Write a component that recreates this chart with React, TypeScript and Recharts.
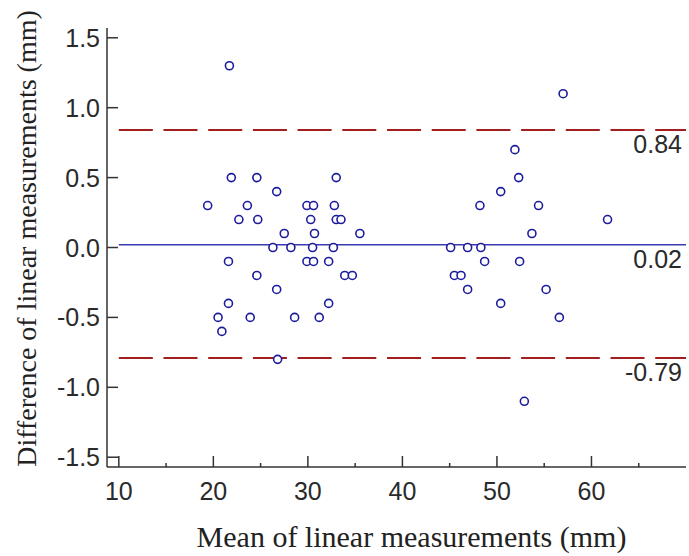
import React from 'react';
import {
  ScatterChart,
  Scatter,
  XAxis,
  YAxis,
  ReferenceLine,
} from 'recharts';

// mean of the two measurements (mm) and their difference (mm)
const meanMm = [
  21.7, 19.4, 21.9, 24.6, 26.7, 33.0, 23.6, 29.9, 30.6, 32.8,
  22.7, 24.7, 30.3, 33.0, 33.5, 27.5, 30.7, 35.5, 26.3, 28.2,
  30.5, 32.7, 21.6, 29.9, 30.6, 32.2, 24.6, 33.9, 34.7, 26.7,
  21.6, 32.2, 20.5, 23.9, 28.6, 31.2, 20.9, 26.8,
  57.0, 51.9, 52.3, 50.4, 48.2, 54.4, 61.7, 53.7, 45.1, 46.9,
  48.3, 48.7, 52.4, 45.5, 46.2, 46.9, 55.2, 50.4, 56.6, 52.9,
];
const diffMm = [
  1.3, 0.3, 0.5, 0.5, 0.4, 0.5, 0.3, 0.3, 0.3, 0.3,
  0.2, 0.2, 0.2, 0.2, 0.2, 0.1, 0.1, 0.1, 0.0, 0.0,
  0.0, 0.0, -0.1, -0.1, -0.1, -0.1, -0.2, -0.2, -0.2, -0.3,
  -0.4, -0.4, -0.5, -0.5, -0.5, -0.5, -0.6, -0.8,
  1.1, 0.7, 0.5, 0.4, 0.3, 0.3, 0.2, 0.1, 0.0, 0.0,
  0.0, -0.1, -0.1, -0.2, -0.2, -0.3, -0.3, -0.4, -0.5, -1.1,
];

// upper limit, mean difference, lower limit
const limitValues = [0.84, 0.02, -0.79];
const limitLabels = ['0.84', '0.02', '-0.79'];
const limitDashed = [true, false, true];

const xTicks = [10, 15, 20, 25, 30, 35, 40, 45, 50, 55, 60, 65];
const yTicks = [-1.5, -1.0, -0.5, 0.0, 0.5, 1.0, 1.5];

const points = meanMm.map((m, i) => ({ x: m, y: diffMm[i] }));

const AXIS = '#333333';
const TICK_FONT = "'Liberation Sans', Arial, sans-serif";
const TITLE_FONT = "'Liberation Serif', 'Times New Roman', serif";

const XTick = ({ x, y, payload }) => {
  const major = payload.value % 10 === 0;
  return (
    <g>
      <line x1={x} x2={x} y1={y} y2={y - (major ? 11 : 4)} stroke={AXIS} strokeWidth={1.5} />
      {major && (
        <text x={x} y={y + 33} textAnchor="middle" fill="#2a2a2a" style={{ fontSize: 25, fontFamily: TICK_FONT }}>
          {payload.value}
        </text>
      )}
    </g>
  );
};

const YTick = ({ x, y, payload }) => (
  <g>
    <line x1={x} x2={x + 11} y1={y} y2={y} stroke={AXIS} strokeWidth={1.5} />
    <text x={x - 7} y={y + 9} textAnchor="end" fill="#2a2a2a" style={{ fontSize: 25, fontFamily: TICK_FONT }}>
      {payload.value.toFixed(1)}
    </text>
  </g>
);

const Dot = ({ cx, cy }) => (
  <circle cx={cx} cy={cy} r={4} fill="#ffffff" stroke="#1c1c9c" strokeWidth={1.6} />
);

const App = () => (
  <div>
    <style>{'body{margin:0}'}</style>
    <ScatterChart width={689} height={556} margin={{ top: 28, right: 3, bottom: 0, left: 0 }}>
      <XAxis
        type="number"
        dataKey="x"
        domain={[8.75, 70]}
        ticks={xTicks}
        interval={0}
        allowDataOverflow
        axisLine={{ stroke: AXIS, strokeWidth: 1.5 }}
        tickLine={false}
        tickSize={0}
        tickMargin={0}
        tick={<XTick />}
        height={89}
        label={{
          content: ({ viewBox }) => (
            <text
              x={viewBox.x + viewBox.width / 2 + 15}
              y={viewBox.y + 80}
              textAnchor="middle"
              fill="#222"
              style={{ fontSize: 30, fontFamily: TITLE_FONT }}
            >
              Mean of linear measurements (mm)
            </text>
          ),
        }}
      />
      <YAxis
        type="number"
        dataKey="y"
        domain={[-1.57, 1.57]}
        ticks={yTicks}
        interval={0}
        allowDataOverflow
        axisLine={{ stroke: AXIS, strokeWidth: 1.5 }}
        tickLine={false}
        tickSize={0}
        tickMargin={0}
        tick={<YTick />}
        width={107}
        label={{
          content: ({ viewBox }) => {
            const cy = viewBox.y + viewBox.height / 2 - 9;
            return (
              <text
                x={36}
                y={cy}
                transform={`rotate(-90, 36, ${cy})`}
                textAnchor="middle"
                fill="#222"
                style={{ fontSize: 28, fontFamily: TITLE_FONT }}
              >
                Difference of linear measurements (mm)
              </text>
            );
          },
        }}
      />
      {limitValues.map((v, i) => (
        <ReferenceLine
          key={v}
          segment={[{ x: 10, y: v }, { x: 70, y: v }]}
          stroke={limitDashed[i] ? '#a31f1f' : '#3a3ab0'}
          strokeWidth={limitDashed[i] ? 2 : 1.5}
          strokeDasharray={limitDashed[i] ? '34 10.7' : undefined}
          ifOverflow="visible"
          label={{
            content: ({ viewBox }) => (
              <text
                x={viewBox.x + viewBox.width - 4}
                y={viewBox.y + 23}
                textAnchor="end"
                fill="#2a2a2a"
                style={{ fontSize: 25, fontFamily: TICK_FONT }}
              >
                {limitLabels[i]}
              </text>
            ),
          }}
        />
      ))}
      <Scatter data={points} shape={<Dot />} isAnimationActive={false} />
    </ScatterChart>
  </div>
);

export default App;
